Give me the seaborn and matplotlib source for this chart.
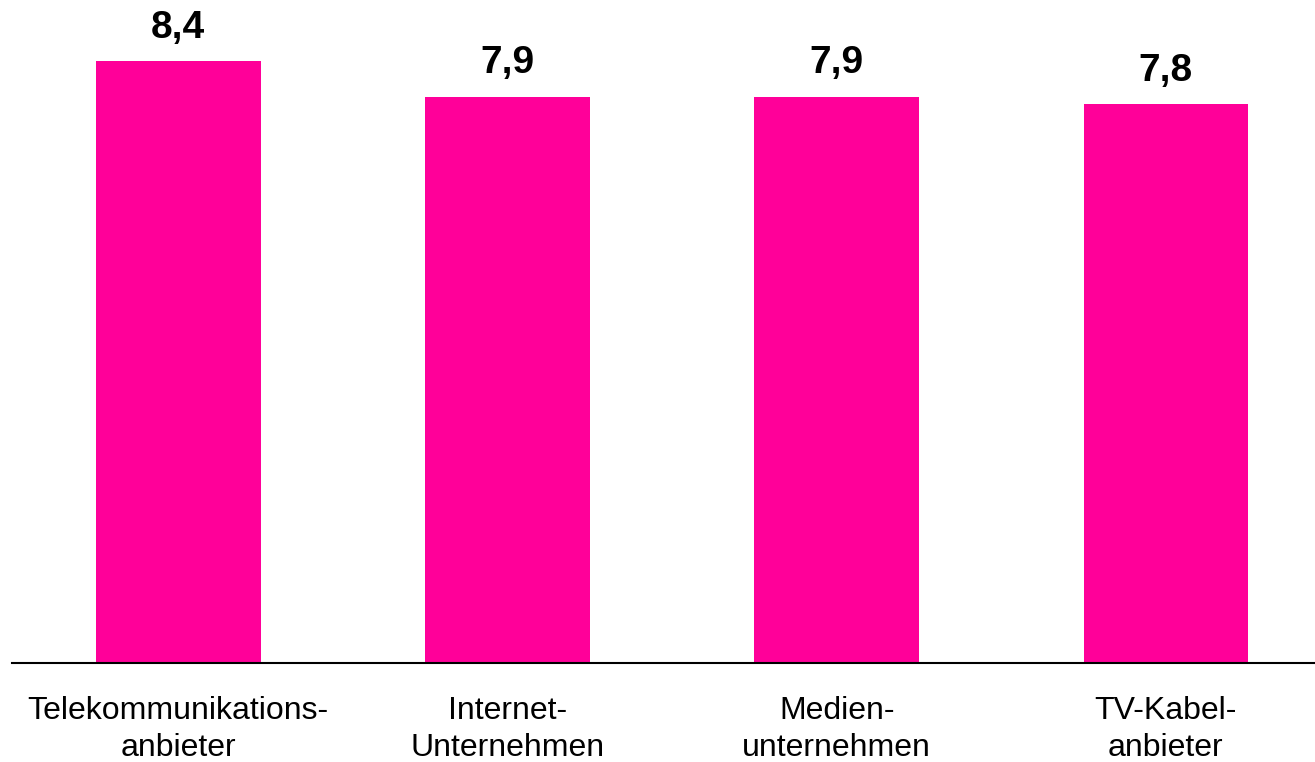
import matplotlib
matplotlib.use("Agg")
import matplotlib.pyplot as plt
import seaborn as sns
import pandas as pd

categories = ["Telekommunikations-\nanbieter", "Internet-\nUnternehmen", "Medien-\nunternehmen", "TV-Kabel-\nanbieter"]
values = [8.4, 7.9, 7.9, 7.8]
value_labels = ["8,4", "7,9", "7,9", "7,8"]

sns.set_theme(style="white")
plt.rcParams['font.family'] = ['Liberation Sans', 'DejaVu Sans']

df = pd.DataFrame({"cat": categories, "val": values})

fig = plt.figure(figsize=(13.15, 7.62), dpi=100)
ax = fig.add_axes([12/1315, (762-663)/762, (1315-12)/1315, 663/762])
sns.barplot(data=df, x="cat", y="val", color="#FF0099", saturation=1, width=0.5, ax=ax)
for p in ax.patches:
    p.set_edgecolor("none")

ax.set_xlim(-0.505, 3.453)
ax.set_ylim(0, 9.25)
ax.set_xlabel("")
ax.set_ylabel("")
ax.set_yticks([])
for s in ["top", "right", "left"]:
    ax.spines[s].set_visible(False)
ax.spines["bottom"].set_color("black")
ax.spines["bottom"].set_linewidth(1.5)
ax.tick_params(axis="x", length=0, pad=24, labelsize=23, labelcolor="black")
for t in ax.get_xticklabels():
    t.set_linespacing(1.28)
ax.patch.set_alpha(0)

for i, (v, lab) in enumerate(zip(values, value_labels)):
    ax.annotate(lab, (i, v), xytext=(0, 11), textcoords="offset points",
                ha="center", va="bottom", fontsize=28, fontweight="bold", color="black")

fig.savefig("out.png", dpi=100)
